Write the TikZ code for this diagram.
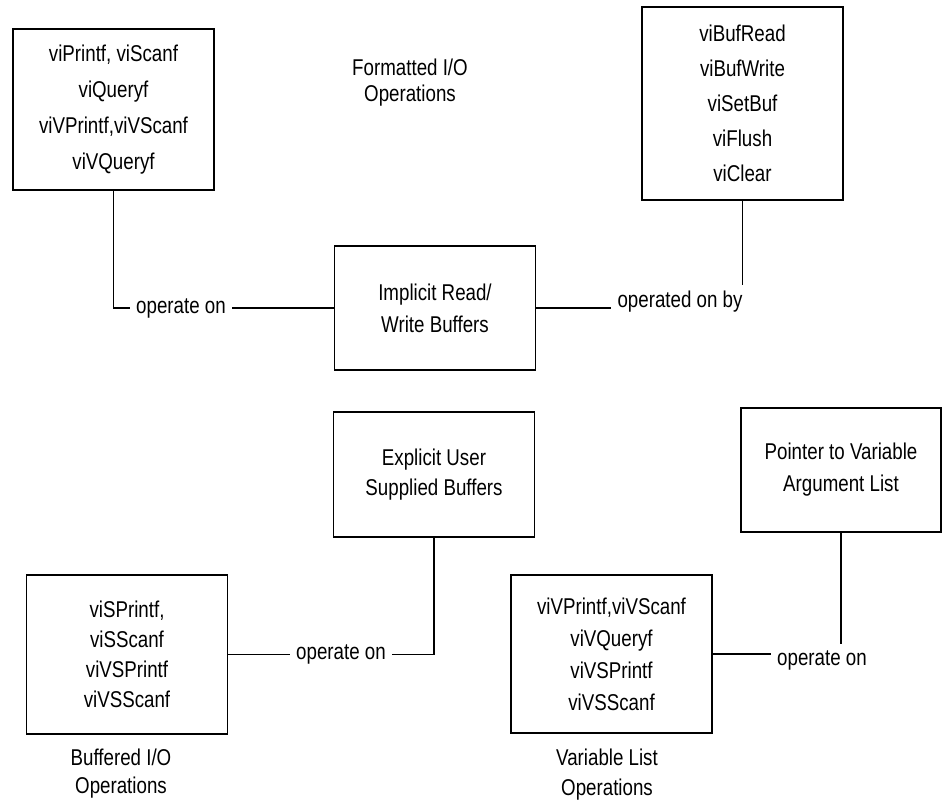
\documentclass[tikz,border=0pt]{standalone}
\usepackage{fontspec}
\setmainfont{Liberation Sans}[FakeStretch=0.82]

\begin{document}
\begin{tikzpicture}
[every node/.style={font=\fontsize{13}{18}\selectfont,align=center},
 box/.style={draw,line width=1.1pt,minimum width=4.02cm},
 spread/.style={font=\fontsize{13}{#1}\selectfont},
 link/.style={inner xsep=0.12cm},
 x=0.02cm,y=-0.02cm,line width=0.6pt]
\useasboundingbox (0,0) rectangle (942,804);
% boxes
\node (FormattedOps) at (113.5,109.5) [box,minimum height=3.22cm,spread=20.5] {viPrintf, viScanf\\viQueryf\\viVPrintf,viVScanf\\viVQueryf};
\node (BufferOps) at (742.5,103.5) [box,minimum height=3.86cm,spread=19.9] {viBufRead\\viBufWrite\\viSetBuf\\viFlush\\viClear};
\node (ImplicitBuf) at (435,308) [box,minimum height=2.48cm,spread=18.2] {Implicit Read/\\Write Buffers};
\node (ExplicitBuf) at (434,474.5) [box,minimum height=2.5cm,spread=17.1] {Explicit User\\Supplied Buffers};
\node (ArgPointer) at (841,470) [box,minimum width=4cm,minimum height=2.48cm,spread=18.2] {Pointer to Variable\\Argument List};
\node (BufferedOps) at (127,654.5) [box,minimum height=3.18cm,spread=17.1] {viSPrintf,\\viSScanf\\viVSPrintf\\viVSScanf};
\node (VarListOps) at (611.5,654) [box,minimum height=3.16cm,spread=18.2] {viVPrintf,viVScanf\\viVQueryf\\viVSPrintf\\viVSScanf};
% captions
\node (FormattedTitle) at (410,83) [spread=14.8] {Formatted I/O\\Operations};
\node (BufferedTitle) at (121,774) [spread=15.9] {Buffered I/O\\Operations};
\node (VarListTitle) at (607,775) [spread=17.1] {Variable List\\Operations};
% link labels
\node (OperateA) at (181,308) [link] {operate on};
\node (OperatedBy) at (680,302) [link] {operated on by};
\node (OperateB) at (341,654.5) [link] {operate on};
\node (OperateC) at (822,660) [link] {operate on};
\draw (FormattedOps.south) |- (OperateA.west);
\draw (OperateA.east) -- (ImplicitBuf.west);
\draw (ImplicitBuf.east) -- (ImplicitBuf.east -| OperatedBy.west);
\draw (BufferOps.south) -- (BufferOps.south |- OperatedBy.north);
\draw (BufferedOps.east) -- (OperateB.west);
\draw (OperateB.east) -| (ExplicitBuf.south);
\draw (VarListOps.east) -- (VarListOps.east -| OperateC.west);
\draw (ArgPointer.south) -- (ArgPointer.south |- OperateC.north);
\end{tikzpicture}
\end{document}
